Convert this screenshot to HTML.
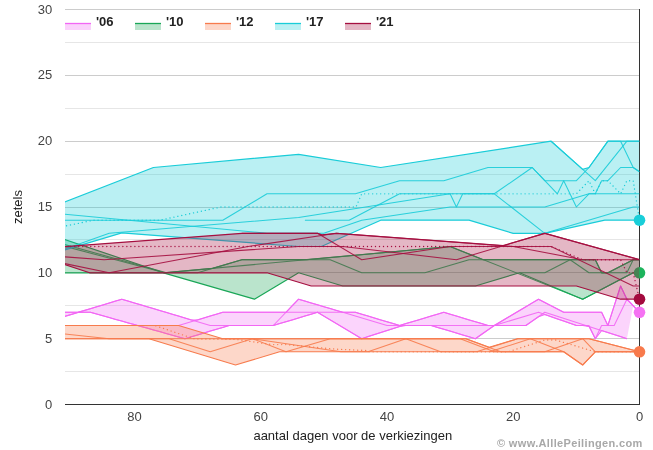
<!DOCTYPE html>
<html><head><meta charset="utf-8"><title>chart</title>
<style>
html,body{margin:0;padding:0;background:#fff;}
svg{display:block;font-family:"Liberation Sans",sans-serif;}
text{filter:url(#idf);}
</style></head><body>
<svg width="653" height="450" viewBox="0 0 653 450">
<rect width="653" height="450" fill="#ffffff"/>
<g shape-rendering="crispEdges">
<line x1="65" x2="639.5" y1="371.6" y2="371.6" stroke="#e6e6e6" stroke-width="1"/>
<line x1="65" x2="639.5" y1="338.7" y2="338.7" stroke="#cccccc" stroke-width="1"/>
<line x1="65" x2="639.5" y1="305.7" y2="305.7" stroke="#e6e6e6" stroke-width="1"/>
<line x1="65" x2="639.5" y1="272.8" y2="272.8" stroke="#cccccc" stroke-width="1"/>
<line x1="65" x2="639.5" y1="239.9" y2="239.9" stroke="#e6e6e6" stroke-width="1"/>
<line x1="65" x2="639.5" y1="207.0" y2="207.0" stroke="#cccccc" stroke-width="1"/>
<line x1="65" x2="639.5" y1="174.1" y2="174.1" stroke="#e6e6e6" stroke-width="1"/>
<line x1="65" x2="639.5" y1="141.2" y2="141.2" stroke="#cccccc" stroke-width="1"/>
<line x1="65" x2="639.5" y1="108.2" y2="108.2" stroke="#e6e6e6" stroke-width="1"/>
<line x1="65" x2="639.5" y1="75.3" y2="75.3" stroke="#cccccc" stroke-width="1"/>
<line x1="65" x2="639.5" y1="42.4" y2="42.4" stroke="#e6e6e6" stroke-width="1"/>
<line x1="65" x2="639.5" y1="9.5" y2="9.5" stroke="#cccccc" stroke-width="1"/>
</g>
<g font-size="13" fill="#444444"><text x="52.2" y="408.5" text-anchor="end">0</text><text x="52.2" y="342.7" text-anchor="end">5</text><text x="52.2" y="276.8" text-anchor="end">10</text><text x="52.2" y="211.0" text-anchor="end">15</text><text x="52.2" y="145.2" text-anchor="end">20</text><text x="52.2" y="79.3" text-anchor="end">25</text><text x="52.2" y="13.5" text-anchor="end">30</text><text x="639.6" y="421.4" text-anchor="middle">0</text><text x="513.3" y="421.4" text-anchor="middle">20</text><text x="387.1" y="421.4" text-anchor="middle">40</text><text x="260.8" y="421.4" text-anchor="middle">60</text><text x="134.5" y="421.4" text-anchor="middle">80</text></g>
<text x="352.8" y="440.2" text-anchor="middle" font-size="13" fill="#222222">aantal dagen voor de verkiezingen</text>
<text transform="translate(22,207) rotate(-90)" text-anchor="middle" font-size="13" fill="#222222">zetels</text>
<text x="642.7" y="447" text-anchor="end" font-size="11" font-weight="bold" fill="#a8a8a8" letter-spacing="0.35">© www.AlllePeilingen.com</text>
<defs><filter id="idf" x="-5%" y="-50%" width="110%" height="200%"><feOffset dx="0" dy="0"/></filter><clipPath id="cp"><rect x="65" y="0" width="574.5" height="410"/></clipPath></defs>
<line x1="65" x2="640" y1="404.5" y2="404.5" stroke="#333333" stroke-width="1" shape-rendering="crispEdges"/>
<line x1="639.5" x2="639.5" y1="9" y2="405" stroke="#333333" stroke-width="1" shape-rendering="crispEdges"/>
<g clip-path="url(#cp)" stroke-linejoin="round">
<polygon points="58.7,312.3 65.0,312.3 71.3,312.3 77.6,312.3 83.9,310.6 90.3,308.7 96.6,306.8 102.9,304.9 109.2,303.0 115.5,301.1 121.8,299.2 128.1,301.0 134.4,302.9 140.8,304.8 147.1,306.7 153.4,308.6 159.7,310.5 166.0,312.3 172.3,314.2 178.6,316.1 184.9,318.0 191.3,319.9 197.6,319.9 203.9,318.0 210.2,316.1 216.5,314.2 222.8,312.3 229.1,312.3 235.5,312.3 241.8,312.3 248.1,312.3 254.4,312.3 260.7,312.3 267.0,312.3 273.3,312.3 279.6,312.3 286.0,312.3 292.3,305.7 298.6,299.2 304.9,301.0 311.2,302.9 317.5,304.8 323.8,306.7 330.2,308.6 336.5,310.5 342.8,312.3 349.1,312.3 355.4,312.3 361.7,314.2 368.0,316.1 374.3,318.0 380.7,319.9 387.0,321.7 393.3,323.6 399.6,325.5 405.9,323.6 412.2,321.7 418.5,319.9 424.9,318.0 431.2,316.1 437.5,314.2 443.8,312.3 450.1,314.2 456.4,316.1 462.7,318.0 469.0,319.9 475.4,321.7 481.7,323.6 488.0,325.5 494.3,325.5 500.6,321.7 506.9,318.0 513.2,314.2 519.5,310.5 525.9,306.7 532.2,302.9 538.5,299.2 544.8,302.5 551.1,305.7 557.4,309.0 563.7,312.3 570.1,312.3 576.4,312.3 582.7,312.3 589.0,312.3 595.3,312.3 601.6,312.3 607.9,325.5 614.2,305.7 620.6,286.0 626.9,299.2 633.2,305.7 639.5,312.3 639.5,312.3 633.2,305.7 626.9,338.7 620.6,336.6 614.2,334.6 607.9,332.6 601.6,330.6 595.3,338.7 589.0,326.5 582.7,325.5 576.4,325.5 570.1,323.3 563.7,321.1 557.4,318.9 551.1,316.7 544.8,314.5 538.5,316.7 532.2,321.1 525.9,325.5 519.5,325.5 513.2,325.5 506.9,325.5 500.6,325.5 494.3,325.5 488.0,329.9 481.7,334.3 475.4,338.7 469.0,336.8 462.7,334.9 456.4,333.0 450.1,331.1 443.8,329.3 437.5,327.4 431.2,325.5 424.9,325.5 418.5,325.5 412.2,325.5 405.9,325.5 399.6,326.5 393.3,328.5 387.0,330.6 380.7,332.6 374.3,334.6 368.0,336.6 361.7,338.7 355.4,334.9 349.1,331.1 342.8,327.4 336.5,323.6 330.2,319.9 323.8,316.1 317.5,312.3 311.2,314.2 304.9,316.1 298.6,318.0 292.3,319.9 286.0,321.7 279.6,323.6 273.3,325.5 267.0,325.5 260.7,325.5 254.4,325.5 248.1,325.5 241.8,325.5 235.5,325.5 229.1,325.5 222.8,327.4 216.5,329.3 210.2,331.1 203.9,333.0 197.6,334.9 191.3,336.8 184.9,338.7 178.6,336.9 172.3,335.2 166.0,333.4 159.7,331.6 153.4,329.9 147.1,328.1 140.8,326.4 134.4,324.6 128.1,322.9 121.8,321.1 115.5,319.4 109.2,317.6 102.9,315.8 96.6,314.1 90.3,312.3 83.9,312.3 77.6,312.5 71.3,314.4 65.0,316.3 58.7,318.3" fill="#f266f4" fill-opacity="0.28" stroke="none"/>
<polyline points="58.7,312.3 65.0,312.3 71.3,312.3 77.6,312.3 83.9,310.6 90.3,308.7 96.6,306.8 102.9,304.9 109.2,303.0 115.5,301.1 121.8,299.2 128.1,301.0 134.4,302.9 140.8,304.8 147.1,306.7 153.4,308.6 159.7,310.5 166.0,312.3 172.3,314.2 178.6,316.1 184.9,318.0 191.3,319.9 197.6,319.9 203.9,318.0 210.2,316.1 216.5,314.2 222.8,312.3 229.1,312.3 235.5,312.3 241.8,312.3 248.1,312.3 254.4,312.3 260.7,312.3 267.0,312.3 273.3,312.3 279.6,312.3 286.0,312.3 292.3,305.7 298.6,299.2 304.9,301.0 311.2,302.9 317.5,304.8 323.8,306.7 330.2,308.6 336.5,310.5 342.8,312.3 349.1,312.3 355.4,312.3 361.7,314.2 368.0,316.1 374.3,318.0 380.7,319.9 387.0,321.7 393.3,323.6 399.6,325.5 405.9,323.6 412.2,321.7 418.5,319.9 424.9,318.0 431.2,316.1 437.5,314.2 443.8,312.3 450.1,314.2 456.4,316.1 462.7,318.0 469.0,319.9 475.4,321.7 481.7,323.6 488.0,325.5 494.3,325.5 500.6,321.7 506.9,318.0 513.2,314.2 519.5,310.5 525.9,306.7 532.2,302.9 538.5,299.2 544.8,302.5 551.1,305.7 557.4,309.0 563.7,312.3 570.1,312.3 576.4,312.3 582.7,312.3 589.0,312.3 595.3,312.3 601.6,312.3 607.9,325.5 614.2,305.7 620.6,286.0 626.9,299.2 633.2,305.7 639.5,312.3" fill="none" stroke="#f266f4" stroke-width="1.05"/>
<polyline points="58.7,318.3 65.0,316.3 71.3,314.4 77.6,312.5 83.9,312.3 90.3,312.3 96.6,314.1 102.9,315.8 109.2,317.6 115.5,319.4 121.8,321.1 128.1,322.9 134.4,324.6 140.8,326.4 147.1,328.1 153.4,329.9 159.7,331.6 166.0,333.4 172.3,335.2 178.6,336.9 184.9,338.7 191.3,336.8 197.6,334.9 203.9,333.0 210.2,331.1 216.5,329.3 222.8,327.4 229.1,325.5 235.5,325.5 241.8,325.5 248.1,325.5 254.4,325.5 260.7,325.5 267.0,325.5 273.3,325.5 279.6,323.6 286.0,321.7 292.3,319.9 298.6,318.0 304.9,316.1 311.2,314.2 317.5,312.3 323.8,316.1 330.2,319.9 336.5,323.6 342.8,327.4 349.1,331.1 355.4,334.9 361.7,338.7 368.0,336.6 374.3,334.6 380.7,332.6 387.0,330.6 393.3,328.5 399.6,326.5 405.9,325.5 412.2,325.5 418.5,325.5 424.9,325.5 431.2,325.5 437.5,327.4 443.8,329.3 450.1,331.1 456.4,333.0 462.7,334.9 469.0,336.8 475.4,338.7 481.7,334.3 488.0,329.9 494.3,325.5 500.6,325.5 506.9,325.5 513.2,325.5 519.5,325.5 525.9,325.5 532.2,321.1 538.5,316.7 544.8,314.5 551.1,316.7 557.4,318.9 563.7,321.1 570.1,323.3 576.4,325.5 582.7,325.5 589.0,326.5 595.3,338.7 601.6,330.6 607.9,332.6 614.2,334.6 620.6,336.6 626.9,338.7" fill="none" stroke="#f266f4" stroke-width="1.05"/>
<polyline points="58.7,312.3 90.3,312.3 184.9,338.7 229.1,325.5 273.3,325.5 298.6,299.2 342.8,312.3 387.0,325.5 431.2,325.5 475.4,338.7 494.3,325.5 538.5,299.2 563.7,312.3 601.6,312.3 607.9,325.5 620.6,286.0 626.9,299.2 639.5,312.3" fill="none" stroke="#f266f4" stroke-width="1.05" stroke-opacity="0.9"/>
<polyline points="58.7,318.3 121.8,299.2 210.2,325.5 273.3,325.5 317.5,312.3 361.7,338.7 402.8,325.5 525.9,325.5 544.8,312.3 626.9,338.7" fill="none" stroke="#f266f4" stroke-width="1.05" stroke-opacity="0.9"/>
<polyline points="178.6,325.5 222.8,312.3 355.4,312.3 399.6,325.5 443.8,312.3 488.0,325.5 494.3,325.5 538.5,312.3 576.4,325.5 589.0,325.5 595.3,338.7 601.6,325.5 614.2,325.5 626.9,299.2 639.5,312.3" fill="none" stroke="#f266f4" stroke-width="1.05" stroke-opacity="0.9"/>
</g>
<circle cx="639.5" cy="312.3" r="5.8" fill="#f572f3"/>
<g clip-path="url(#cp)" stroke-linejoin="round">
<polygon points="58.7,237.4 163.5,272.8 212.7,268.4 241.8,259.7 306.8,259.7 450.1,246.5 483.2,259.7 570.1,259.7 595.3,259.7 601.6,272.8 607.9,272.8 633.2,259.7 639.5,259.7 639.5,272.8 633.2,272.8 582.7,299.2 519.5,272.8 475.4,286.0 342.8,286.0 298.6,272.8 254.4,299.2 163.5,272.8 58.7,272.8" fill="#1aa657" fill-opacity="0.3" stroke="none"/>
<polyline points="58.7,237.4 163.5,272.8 212.7,268.4 241.8,259.7 306.8,259.7 450.1,246.5 483.2,259.7 570.1,259.7 595.3,259.7 601.6,272.8 607.9,272.8 633.2,259.7 639.5,259.7" fill="none" stroke="#1aa657" stroke-width="1.2"/>
<polyline points="58.7,272.8 163.5,272.8 254.4,299.2 298.6,272.8 342.8,286.0 475.4,286.0 519.5,272.8 582.7,299.2 633.2,272.8 639.5,272.8" fill="none" stroke="#1aa657" stroke-width="1.2"/>
<polyline points="58.7,242.9 166.6,272.8 197.6,272.8 241.8,259.7 330.2,259.7 361.7,272.8 424.9,272.8 469.0,259.7 570.1,259.7 589.0,272.8 626.9,272.8 633.2,259.7 639.5,259.7" fill="none" stroke="#1aa657" stroke-width="1.05" stroke-opacity="0.9"/>
<polyline points="58.7,244.7 164.7,272.8 450.1,246.5 582.7,299.2 633.2,272.8 639.5,272.8" fill="none" stroke="#1aa657" stroke-width="1.05" stroke-opacity="0.9"/>
<polyline points="519.5,272.8 544.8,272.8 570.1,259.7 595.3,259.7 601.6,272.8 607.9,272.8 633.2,259.7 639.5,259.7" fill="none" stroke="#1aa657" stroke-width="1.05" stroke-opacity="0.9"/>
</g>
<circle cx="639.5" cy="272.8" r="5.8" fill="#1db45c"/>
<g clip-path="url(#cp)" stroke-linejoin="round">
<polygon points="58.7,325.5 178.6,325.5 222.8,338.7 460.2,338.7 465.9,338.7 489.2,347.2 517.7,338.7 589.0,338.7 639.5,351.8 639.5,351.8 595.3,351.8 582.7,365.0 563.7,351.8 279.6,351.8 235.5,365.0 149.0,338.7 58.7,338.7" fill="#f77b4d" fill-opacity="0.3" stroke="none"/>
<polyline points="58.7,325.5 178.6,325.5 222.8,338.7 460.2,338.7 465.9,338.7 489.2,347.2 517.7,338.7 589.0,338.7 639.5,351.8" fill="none" stroke="#f77b4d" stroke-width="1.1"/>
<polyline points="58.7,338.7 149.0,338.7 235.5,365.0 279.6,351.8 563.7,351.8 582.7,365.0 595.3,351.8 639.5,351.8" fill="none" stroke="#f77b4d" stroke-width="1.1"/>
<polyline points="58.7,333.4 109.2,338.7 169.2,338.7 210.2,351.8 252.5,338.7 286.0,351.8 330.2,338.7 460.2,338.7 494.3,351.8 544.8,351.8 582.7,338.7 595.3,351.8 639.5,351.8" fill="none" stroke="#f77b4d" stroke-width="1.05" stroke-opacity="0.9"/>
<polyline points="58.7,338.7 252.5,338.7 340.9,351.8 368.0,351.8 405.9,338.7 440.6,351.8 476.6,351.8 517.7,338.7 589.0,338.7 639.5,351.8" fill="none" stroke="#f77b4d" stroke-width="1.05" stroke-opacity="0.9"/>
<polyline points="222.8,338.7 465.9,338.7 500.6,351.8 563.7,351.8 582.7,365.0 595.3,351.8 639.5,351.8" fill="none" stroke="#f77b4d" stroke-width="1.05" stroke-opacity="0.9"/>
<polyline points="489.9,351.8 530.3,338.7 563.7,351.8" fill="none" stroke="#f77b4d" stroke-width="1.05" stroke-opacity="0.9"/>
<polyline points="155.9,325.9 194.4,338.9 235.5,339.3 251.9,341.6 272.1,344.6 286.0,344.6 336.5,349.2 366.8,350.5 368.0,351.8 508.2,351.8 544.8,340.0 555.5,340.0 590.9,350.5 595.3,351.8 639.5,351.8" fill="none" stroke="#f77b4d" stroke-width="1.35" stroke-linecap="round" stroke-dasharray="0.01,4"/>
</g>
<circle cx="639.5" cy="351.8" r="5.8" fill="#f87a4c"/>
<g clip-path="url(#cp)" stroke-linejoin="round">
<polygon points="58.7,204.4 153.4,167.5 298.6,154.3 380.7,167.5 551.1,141.2 582.7,169.4 589.0,167.5 607.9,141.2 639.5,141.2 639.5,220.2 604.8,220.2 544.8,233.3 513.2,233.3 469.0,220.2 380.7,220.2 321.3,246.5 298.6,246.5 121.8,232.9 58.7,251.8" fill="#19ccd8" fill-opacity="0.3" stroke="none"/>
<polyline points="58.7,204.4 153.4,167.5 298.6,154.3 380.7,167.5 551.1,141.2 582.7,169.4 589.0,167.5 607.9,141.2 639.5,141.2" fill="none" stroke="#19ccd8" stroke-width="1.2"/>
<polyline points="58.7,251.8 121.8,232.9 298.6,246.5 321.3,246.5 380.7,220.2 469.0,220.2 513.2,233.3 544.8,233.3 604.8,220.2 639.5,220.2" fill="none" stroke="#19ccd8" stroke-width="1.2"/>
<polyline points="58.7,220.2 222.8,220.2 267.0,193.8 355.4,193.8 399.6,180.7 443.8,180.7 488.0,167.5 532.2,167.5 544.8,180.7 576.4,180.7 589.0,167.5 607.9,141.2 620.6,141.2 633.2,167.5 639.5,171.8" fill="none" stroke="#19ccd8" stroke-width="1.05" stroke-opacity="0.9"/>
<polyline points="304.9,220.2 349.1,220.2 399.6,193.8 494.3,193.8 532.2,167.5 544.8,180.7 557.4,193.8 563.7,180.7 576.4,207.0 589.0,193.8 595.3,193.8 601.6,180.7 607.9,180.7 620.6,167.5 633.2,167.5 639.5,171.8" fill="none" stroke="#19ccd8" stroke-width="1.05" stroke-opacity="0.9"/>
<polyline points="551.1,141.2 595.3,180.7 626.9,141.2 639.5,141.2" fill="none" stroke="#19ccd8" stroke-width="1.05" stroke-opacity="0.9"/>
<polyline points="58.7,251.2 109.2,233.3 298.6,217.5 450.1,193.8 456.4,207.0 462.7,193.8 494.3,193.8 544.8,233.3 633.2,207.0 639.5,207.0" fill="none" stroke="#19ccd8" stroke-width="1.05" stroke-opacity="0.9"/>
<polyline points="58.7,213.6 267.0,233.3 323.8,233.3 361.7,220.2 450.1,207.0 544.8,207.0 589.0,193.8 639.5,193.8" fill="none" stroke="#19ccd8" stroke-width="1.05" stroke-opacity="0.9"/>
<polyline points="58.7,227.4 93.4,220.2 159.7,220.2 220.9,207.0 356.0,207.0 361.7,193.8 576.4,193.8 589.0,180.7 595.3,193.8 601.6,180.7 607.9,180.7 620.6,193.8 626.9,180.7 633.2,180.7 639.5,220.2" fill="none" stroke="#19ccd8" stroke-width="1.35" stroke-linecap="round" stroke-dasharray="0.01,4"/>
</g>
<circle cx="639.5" cy="220.2" r="5.8" fill="#19ced9"/>
<g clip-path="url(#cp)" stroke-linejoin="round">
<polygon points="58.7,247.0 241.8,233.3 317.5,233.3 321.9,234.9 336.5,233.3 503.1,245.7 544.8,233.3 639.5,259.7 639.5,299.2 620.6,299.2 576.4,286.0 311.2,286.0 267.0,272.8 89.6,272.8 58.7,262.6" fill="#a50f40" fill-opacity="0.3" stroke="none"/>
<polyline points="58.7,247.0 241.8,233.3 317.5,233.3 321.9,234.9 336.5,233.3 503.1,245.7 544.8,233.3 639.5,259.7" fill="none" stroke="#a50f40" stroke-width="1.2"/>
<polyline points="58.7,262.6 89.6,272.8 267.0,272.8 311.2,286.0 576.4,286.0 620.6,299.2 639.5,299.2" fill="none" stroke="#a50f40" stroke-width="1.2"/>
<polyline points="58.7,256.4 104.1,259.7 298.6,246.5 342.8,246.5 456.4,259.7 544.8,233.3 639.5,259.7" fill="none" stroke="#a50f40" stroke-width="1.05" stroke-opacity="0.9"/>
<polyline points="58.7,262.3 109.2,272.8 248.1,246.5 336.5,233.3 513.2,246.5 582.7,259.7 639.5,259.7" fill="none" stroke="#a50f40" stroke-width="1.05" stroke-opacity="0.9"/>
<polyline points="241.8,233.3 317.5,233.3 361.7,259.7 450.1,246.5 551.1,246.5 633.2,286.0 639.5,286.0" fill="none" stroke="#a50f40" stroke-width="1.05" stroke-opacity="0.9"/>
<polyline points="58.7,246.5 551.1,246.5 582.7,259.7 620.6,259.7 626.9,272.8 633.2,272.8 639.5,299.2" fill="none" stroke="#a50f40" stroke-width="1.35" stroke-linecap="round" stroke-dasharray="0.01,4"/>
</g>
<circle cx="639.5" cy="299.2" r="5.8" fill="#a30a3e"/>
<rect x="65" y="23.5" width="26" height="6.5" fill="#f266f4" fill-opacity="0.3"/>
<line x1="65" x2="91" y1="23.5" y2="23.5" stroke="#f266f4" stroke-width="1.3"/>
<text x="96" y="26.3" font-weight="bold" font-size="13" fill="#222">'06</text>
<rect x="135" y="23.5" width="26" height="6.5" fill="#1aa657" fill-opacity="0.3"/>
<line x1="135" x2="161" y1="23.5" y2="23.5" stroke="#1aa657" stroke-width="1.3"/>
<text x="166" y="26.3" font-weight="bold" font-size="13" fill="#222">'10</text>
<rect x="205" y="23.5" width="26" height="6.5" fill="#f77b4d" fill-opacity="0.3"/>
<line x1="205" x2="231" y1="23.5" y2="23.5" stroke="#f77b4d" stroke-width="1.3"/>
<text x="236" y="26.3" font-weight="bold" font-size="13" fill="#222">'12</text>
<rect x="275" y="23.5" width="26" height="6.5" fill="#19ccd8" fill-opacity="0.3"/>
<line x1="275" x2="301" y1="23.5" y2="23.5" stroke="#19ccd8" stroke-width="1.3"/>
<text x="306" y="26.3" font-weight="bold" font-size="13" fill="#222">'17</text>
<rect x="345" y="23.5" width="26" height="6.5" fill="#a50f40" fill-opacity="0.3"/>
<line x1="345" x2="371" y1="23.5" y2="23.5" stroke="#a50f40" stroke-width="1.3"/>
<text x="376" y="26.3" font-weight="bold" font-size="13" fill="#222">'21</text>
</svg>
</body></html>
